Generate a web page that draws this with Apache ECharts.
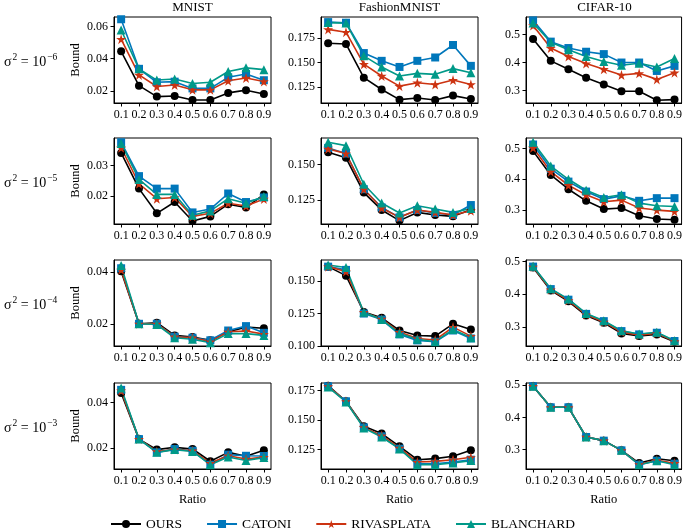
<!DOCTYPE html>
<html>
<head>
<meta charset="utf-8">
<script src="https://cdn.jsdelivr.net/npm/echarts@6/dist/echarts.min.js"></script>
<style>
html, body { margin: 0; padding: 0; background: #fff; }
#chart { width: 685px; height: 529px; }
</style>
</head>
<body>
<div id="chart"></div>
<script>
const ratios = [0.1, 0.2, 0.3, 0.4, 0.5, 0.6, 0.7, 0.8, 0.9];
const methods = ['OURS', 'CATONI', 'RIVASPLATA', 'BLANCHARD'];
const datasets = ['MNIST', 'FashionMNIST', 'CIFAR-10'];
const sigmaExps = ['−6', '−5', '−4', '−3'];

// each panel: [OURS, CATONI, RIVASPLATA, BLANCHARD]
const mnist6 = [
  [0.0446, 0.0232, 0.0164, 0.0168, 0.0143, 0.0143, 0.0187, 0.0204, 0.0180],
  [0.0646, 0.0337, 0.0253, 0.0257, 0.0215, 0.0215, 0.0284, 0.0305, 0.0266],
  [0.0522, 0.0299, 0.0227, 0.0236, 0.0206, 0.0206, 0.0263, 0.0280, 0.0258],
  [0.0579, 0.0337, 0.0267, 0.0274, 0.0246, 0.0253, 0.0320, 0.0343, 0.0332]
];
const fashion6 = [
  [0.1695, 0.1688, 0.1346, 0.1226, 0.1123, 0.1140, 0.1120, 0.1164, 0.1130],
  [0.1910, 0.1904, 0.1596, 0.1517, 0.1455, 0.1517, 0.1551, 0.1678, 0.1466],
  [0.1836, 0.1808, 0.1483, 0.1363, 0.1260, 0.1295, 0.1277, 0.1322, 0.1277],
  [0.1905, 0.1900, 0.1568, 0.1455, 0.1363, 0.1390, 0.1380, 0.1438, 0.1397]
];
const cifar6 = [
  [0.4843, 0.4060, 0.3759, 0.3458, 0.3217, 0.2976, 0.2976, 0.2650, 0.2675],
  [0.5506, 0.4747, 0.4518, 0.4386, 0.4301, 0.4000, 0.4000, 0.3699, 0.3880],
  [0.5325, 0.4518, 0.4217, 0.3964, 0.3759, 0.3554, 0.3614, 0.3398, 0.3639],
  [0.5410, 0.4723, 0.4458, 0.4217, 0.4036, 0.3904, 0.3976, 0.3843, 0.4145]
];
const mnist5 = [
  [0.0341, 0.0224, 0.0143, 0.0180, 0.0118, 0.0133, 0.0173, 0.0162, 0.0205],
  [0.0376, 0.0265, 0.0224, 0.0224, 0.0146, 0.0157, 0.0208, 0.0180, 0.0195],
  [0.0358, 0.0240, 0.0191, 0.0195, 0.0133, 0.0143, 0.0176, 0.0167, 0.0190],
  [0.0372, 0.0254, 0.0205, 0.0205, 0.0137, 0.0151, 0.0191, 0.0176, 0.0198]
];
const fashion5 = [
  [0.1586, 0.1547, 0.1301, 0.1178, 0.1103, 0.1161, 0.1143, 0.1133, 0.1180],
  [0.1617, 0.1577, 0.1325, 0.1196, 0.1126, 0.1178, 0.1157, 0.1143, 0.1213],
  [0.1610, 0.1577, 0.1325, 0.1192, 0.1126, 0.1178, 0.1161, 0.1143, 0.1173],
  [0.1657, 0.1633, 0.1360, 0.1227, 0.1157, 0.1208, 0.1185, 0.1161, 0.1189]
];
const cifar5 = [
  [0.4914, 0.4140, 0.3677, 0.3301, 0.3032, 0.3065, 0.2817, 0.2710, 0.2688],
  [0.5129, 0.4344, 0.3925, 0.3602, 0.3355, 0.3462, 0.3301, 0.3387, 0.3387],
  [0.5022, 0.4247, 0.3806, 0.3495, 0.3269, 0.3323, 0.3065, 0.3000, 0.2957],
  [0.5204, 0.4430, 0.4000, 0.3645, 0.3409, 0.3495, 0.3226, 0.3140, 0.3118]
];
const mnist4 = [
  [0.0403, 0.0200, 0.0204, 0.0155, 0.0149, 0.0136, 0.0169, 0.0187, 0.0183],
  [0.0415, 0.0200, 0.0200, 0.0150, 0.0146, 0.0136, 0.0174, 0.0191, 0.0165],
  [0.0409, 0.0200, 0.0200, 0.0150, 0.0146, 0.0131, 0.0169, 0.0172, 0.0160],
  [0.0426, 0.0200, 0.0197, 0.0146, 0.0140, 0.0127, 0.0162, 0.0162, 0.0155]
];
const fashion4 = [
  [0.1609, 0.1540, 0.1261, 0.1216, 0.1119, 0.1081, 0.1076, 0.1170, 0.1127],
  [0.1609, 0.1584, 0.1249, 0.1203, 0.1089, 0.1043, 0.1033, 0.1119, 0.1058],
  [0.1609, 0.1571, 0.1259, 0.1208, 0.1107, 0.1058, 0.1046, 0.1145, 0.1076],
  [0.1622, 0.1602, 0.1259, 0.1203, 0.1096, 0.1051, 0.1033, 0.1127, 0.1063]
];
const cifar4 = [
  [0.4820, 0.4117, 0.3780, 0.3345, 0.3120, 0.2797, 0.2716, 0.2766, 0.2543],
  [0.4848, 0.4157, 0.3832, 0.3396, 0.3173, 0.2868, 0.2766, 0.2817, 0.2563],
  [0.4840, 0.4140, 0.3810, 0.3375, 0.3150, 0.2840, 0.2745, 0.2800, 0.2553],
  [0.4860, 0.4170, 0.3850, 0.3410, 0.3185, 0.2880, 0.2780, 0.2830, 0.2570]
];
const mnist3 = [
  [0.0441, 0.0239, 0.0193, 0.0203, 0.0196, 0.0142, 0.0181, 0.0164, 0.0190],
  [0.0455, 0.0239, 0.0181, 0.0196, 0.0188, 0.0127, 0.0171, 0.0166, 0.0165],
  [0.0451, 0.0239, 0.0185, 0.0193, 0.0188, 0.0134, 0.0166, 0.0152, 0.0160],
  [0.0463, 0.0239, 0.0181, 0.0193, 0.0185, 0.0127, 0.0161, 0.0145, 0.0158]
];
const fashion3 = [
  [0.1792, 0.1660, 0.1448, 0.1386, 0.1278, 0.1165, 0.1174, 0.1194, 0.1244],
  [0.1787, 0.1660, 0.1439, 0.1363, 0.1258, 0.1131, 0.1131, 0.1145, 0.1165],
  [0.1787, 0.1660, 0.1439, 0.1369, 0.1264, 0.1145, 0.1151, 0.1165, 0.1185],
  [0.1781, 0.1655, 0.1434, 0.1357, 0.1256, 0.1123, 0.1123, 0.1137, 0.1157]
];
const cifar3 = [
  [0.4969, 0.4316, 0.4316, 0.3394, 0.3280, 0.2979, 0.2585, 0.2720, 0.2658],
  [0.4969, 0.4316, 0.4316, 0.3394, 0.3280, 0.2979, 0.2534, 0.2658, 0.2565],
  [0.4969, 0.4316, 0.4316, 0.3394, 0.3280, 0.2979, 0.2545, 0.2670, 0.2580],
  [0.4969, 0.4316, 0.4316, 0.3394, 0.3280, 0.2979, 0.2534, 0.2658, 0.2534]
];

// y tick labels per panel (row-major)
const yTicks = [
  [0.02, 0.04, 0.06], [0.125, 0.150, 0.175], [0.3, 0.4, 0.5],
  [0.02, 0.03], [0.125, 0.150], [0.3, 0.4, 0.5],
  [0.02, 0.04], [0.100, 0.125, 0.150], [0.3, 0.4, 0.5],
  [0.02, 0.04], [0.125, 0.150, 0.175], [0.3, 0.4, 0.5]
];
const yDecimals = [2, 3, 1];

const panels = [mnist6, fashion6, cifar6, mnist5, fashion5, cifar5, mnist4, fashion4, cifar4, mnist3, fashion3, cifar3];

// visible y range of each panel
const yRanges = [
  [0.0124, 0.0660], [0.1089, 0.1962], [0.2554, 0.5627],
  [0.0108, 0.0390], [0.1079, 0.1687], [0.2548, 0.5340],
  [0.0114, 0.0447], [0.1000, 0.1660], [0.2410, 0.5050],
  [0.0108, 0.0485], [0.1086, 0.1815], [0.2400, 0.5070]
];

const colLeft = [114, 321, 526];
const rowTop = [17, 138, 260, 383];
const gw = 157, gh = 86;

const colors = ['#000000', '#0077bb', '#cc3311', '#009988'];
const starPath = 'path://M50,0 L61,35 L98,35 L68,57 L79,91 L50,70 L21,91 L32,57 L2,35 L39,35 Z';
const symbols = ['circle', 'rect', starPath, 'triangle'];
const symSizes = [8, 8, 10, 9];
const font = '"Liberation Serif", "DejaVu Serif", serif';

const grids = [], xAxes = [], yAxes = [], series = [], graphics = [];

panels.forEach((panel, i) => {
  const r = Math.floor(i / 3), c = i % 3;
  grids.push({
    left: colLeft[c], top: rowTop[r], width: gw, height: gh,
    show: true, borderColor: '#000', borderWidth: 1, backgroundColor: '#fff'
  });
  xAxes.push({
    type: 'value', gridIndex: i, min: 0.06, max: 0.94,
    name: r === 3 ? 'Ratio' : '', nameLocation: 'middle', nameGap: 24,
    nameTextStyle: { fontFamily: font, fontSize: 12.5, color: '#000' },
    axisLine: { show: true, lineStyle: { color: '#000', width: 1 } },
    axisTick: { show: true, length: 3.5, customValues: ratios, lineStyle: { color: '#000' } },
    axisLabel: {
      customValues: ratios, margin: 6, fontFamily: font, fontSize: 12, color: '#000',
      formatter: v => v.toFixed(1)
    },
    splitLine: { show: false }
  });
  yAxes.push({
    type: 'value', gridIndex: i, min: yRanges[i][0], max: yRanges[i][1],
    name: c === 0 ? 'Bound' : '', nameLocation: 'middle', nameGap: 32,
    nameTextStyle: { fontFamily: font, fontSize: 12.5, color: '#000' },
    axisLine: { show: true, lineStyle: { color: '#000', width: 1 } },
    axisTick: { show: true, length: 3.5, customValues: yTicks[i], lineStyle: { color: '#000' } },
    axisLabel: {
      customValues: yTicks[i], margin: 6, fontFamily: font, fontSize: 12, color: '#000',
      formatter: v => v.toFixed(yDecimals[c])
    },
    splitLine: { show: false }
  });
  panel.forEach((vals, k) => {
    series.push({
      name: methods[k], type: 'line', xAxisIndex: i, yAxisIndex: i,
      data: vals.map((v, j) => [ratios[j], v]),
      symbol: symbols[k], symbolSize: symSizes[k],
      itemStyle: { color: colors[k] },
      lineStyle: { color: colors[k], width: 1.6 },
      animation: false
    });
  });
});

datasets.forEach((d, c) => {
  graphics.push({
    type: 'text', x: colLeft[c] + gw / 2, y: 8,
    style: { text: d, align: 'center', verticalAlign: 'middle', fontFamily: font, fontSize: 13, fill: '#000' }
  });
});

sigmaExps.forEach((e, r) => {
  graphics.push({
    type: 'text', x: 4, y: rowTop[r] + gh / 2,
    style: {
      text: '{a|σ}{s|2}{a| = 10}{s|' + e + '}',
      verticalAlign: 'middle', align: 'left', fill: '#000',
      rich: {
        a: { fontFamily: font, fontSize: 14, fill: '#000', lineHeight: 18, verticalAlign: 'bottom' },
        s: { fontFamily: font, fontSize: 9.5, fill: '#000', lineHeight: 18, verticalAlign: 'top', padding: [1, 0, 0, 1] }
      }
    }
  });
});

const chart = echarts.init(document.getElementById('chart'));
chart.setOption({
  backgroundColor: '#fff',
  animation: false,
  grid: grids,
  xAxis: xAxes,
  yAxis: yAxes,
  series: series,
  graphic: graphics,
  legend: {
    data: methods, left: 'center', top: 512,
    itemWidth: 30, itemHeight: 10, itemGap: 24,
    textStyle: { fontFamily: font, fontSize: 13.5, color: '#000' }
  }
});
</script>
</body>
</html>
